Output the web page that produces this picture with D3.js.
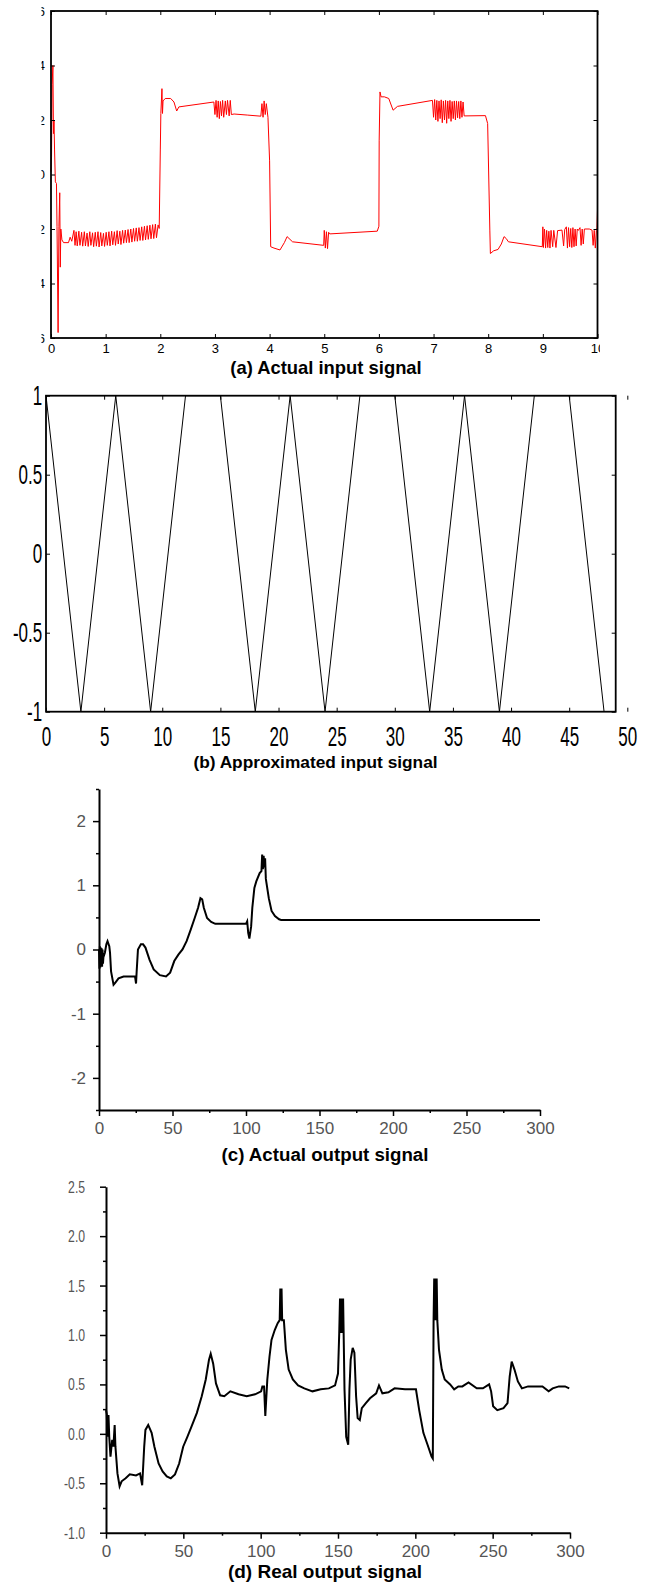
<!DOCTYPE html>
<html>
<head>
<meta charset="utf-8">
<script src="https://cdn.jsdelivr.net/npm/d3@7"></script>
<style>
  body { margin: 0; background: #fff; }
  svg { display: block; }
  text { font-family: "Liberation Sans", Arial, sans-serif; }
</style>
</head>
<body>
<svg id="chart" width="645" height="1582"></svg>
<script>
// (a) actual input signal, [time, value]
const inputActual = [
  [0,0.1],[0.01,0.65],[0.02,3.3],[0.035,4.0],[0.045,1.5],[0.055,2.0],[0.065,0.9],[0.08,-0.27],[0.1,-0.33],
  [0.11,-1.9],[0.13,-5.8],[0.145,-1.9],[0.16,-0.67],[0.17,-3.4],[0.18,-2.0],[0.2,-2.4],[0.23,-2.5],[0.32,-2.5],
  [0.35,-2.3],[0.38,-2.45],
  [0.42,-2.05],[0.44,-2.6],[0.46,-2.1],[0.48,-2.62],[0.51,-2.08],[0.53,-2.6],[0.56,-2.12],[0.58,-2.63],[0.61,-2.1],
  [0.63,-2.62],[0.66,-2.15],[0.68,-2.64],[0.71,-2.1],[0.73,-2.6],[0.76,-2.14],[0.78,-2.65],[0.81,-2.12],[0.83,-2.63],
  [0.86,-2.1],[0.88,-2.66],[0.91,-2.13],[0.93,-2.62],[0.96,-2.16],[0.98,-2.64],[1.01,-2.12],[1.03,-2.6],[1.06,-2.1],
  [1.08,-2.62],[1.11,-2.08],[1.13,-2.58],[1.16,-2.1],[1.18,-2.6],[1.21,-2.06],[1.23,-2.55],[1.26,-2.08],[1.28,-2.57],
  [1.31,-2.05],[1.33,-2.52],[1.36,-2.04],[1.38,-2.5],[1.41,-2.02],[1.43,-2.5],[1.46,-2.0],[1.48,-2.48],[1.51,-1.98],
  [1.53,-2.45],[1.56,-1.96],[1.58,-2.45],[1.61,-1.95],[1.63,-2.42],[1.66,-1.92],[1.68,-2.42],[1.71,-1.9],[1.73,-2.4],
  [1.76,-1.88],[1.78,-2.38],[1.81,-1.86],[1.83,-2.36],[1.86,-1.84],[1.88,-2.35],[1.91,-1.82],[1.93,-2.32],[1.96,-1.85],
  [1.98,-1.98],[2.0,0.9],[2.01,2.24],[2.03,3.15],[2.04,2.24],[2.05,2.7],[2.09,2.79],[2.19,2.79],[2.25,2.66],
  [2.3,2.33],[2.34,2.48],[2.98,2.66],
  [3.0,2.2],[3.02,2.72],[3.04,2.1],[3.06,2.7],[3.08,2.05],[3.1,2.68],[3.12,2.15],[3.14,2.72],[3.16,2.1],[3.19,2.7],
  [3.21,2.2],[3.23,2.72],[3.26,2.15],[3.28,2.72],[3.3,2.2],
  [3.35,2.22],[3.6,2.18],[3.84,2.14],[3.86,2.6],[3.88,2.1],[3.9,2.7],[3.92,2.2],[3.94,2.6],[3.97,2.1],[4.0,0.5],
  [4.02,-2.65],[4.08,-2.7],[4.19,-2.77],[4.27,-2.5],[4.32,-2.28],[4.42,-2.47],[4.99,-2.6],
  [5.0,-2.05],[5.02,-2.7],[5.04,-2.1],[5.06,-2.72],[5.08,-2.12],[5.1,-2.18],[5.97,-2.08],[6.0,-1.9],[6.005,1.26],
  [6.02,3.03],[6.04,2.85],[6.1,2.85],[6.18,2.79],[6.26,2.36],[6.34,2.5],[6.98,2.72],
  [7.0,2.1],[7.02,2.75],[7.04,2.0],[7.06,2.72],[7.08,1.95],[7.1,2.7],[7.12,2.05],[7.14,2.74],[7.16,1.9],[7.18,2.7],
  [7.2,2.0],[7.22,2.72],[7.24,1.88],[7.26,2.7],[7.28,2.05],[7.3,2.72],[7.32,1.95],[7.34,2.68],[7.36,2.05],[7.38,2.7],
  [7.4,2.0],[7.42,2.7],[7.44,2.08],[7.46,2.68],[7.48,2.05],[7.5,2.7],[7.52,2.1],[7.54,2.66],[7.56,2.15],
  [7.95,2.16],[7.99,1.87],[8.03,-2.04],[8.04,-2.9],[8.1,-2.8],[8.18,-2.75],[8.24,-2.55],[8.29,-2.28],[8.33,-2.35],
  [8.37,-2.47],[8.99,-2.65],
  [9.0,-1.92],[9.01,-2.68],[9.03,-2.0],[9.05,-2.7],[9.07,-2.05],[9.09,-2.68],[9.11,-2.08],[9.13,-2.7],[9.15,-2.05],
  [9.18,-2.65],[9.2,-2.05],[9.24,-2.68],[9.27,-2.06],[9.35,-2.04],[9.38,-2.62],[9.4,-2.02],[9.43,-1.92],[9.45,-2.7],
  [9.47,-1.95],[9.49,-2.65],[9.51,-1.98],[9.53,-2.68],[9.55,-1.95],[9.57,-2.65],[9.59,-2.0],[9.61,-2.62],[9.63,-2.0],
  [9.65,-2.05],[9.68,-1.95],[9.7,-2.6],[9.72,-2.0],[9.74,-2.55],[9.76,-2.0],[9.85,-2.0],[9.9,-2.04],[9.92,-2.6],
  [9.94,-2.05],[9.96,-2.7],[9.98,-2.05],[9.99,-1.95],[10,-1.31]
];

// (b) approximated input signal: triangle vertices
const triTime  = [0, 3, 6, 9, 12, 15, 18, 21, 24, 27, 30, 33, 36, 39, 42, 45, 48];
const triValue = [1, -1, 1, -1, 1, 1, -1, 1, -1, 1, 1, -1, 1, -1, 1, 1, -1];

// (c) actual output signal
const outputActual = [
  [0,0],[0.3,-0.3],[0.6,0.05],[0.9,-0.28],[1.2,0.03],[1.5,-0.25],[1.8,0.02],[2.1,-0.27],[2.4,0],[2.7,-0.22],
  [3,-0.12],[4,-0.05],[5,0.08],[5.8,0.13],[7,0.05],[7.5,-0.05],[8.2,-0.34],[9.9,-0.55],[11,-0.52],[13.3,-0.45],
  [16.7,-0.42],[24.5,-0.42],[25.2,-0.53],[25.6,-0.35],[26.5,0],[28.5,0.08],[30,0.08],[31.6,0.03],[34.4,-0.16],
  [37.2,-0.31],[41.4,-0.4],[45.6,-0.42],[48.4,-0.36],[51.2,-0.18],[54,-0.08],[56.8,0],[59.6,0.13],[62.4,0.31],
  [65.1,0.49],[67.4,0.65],[69,0.8],[70.2,0.78],[71.3,0.65],[73.5,0.49],[76.3,0.43],[79.1,0.4],[100,0.4],
  [100.8,0.44],[101.5,0.26],[102.3,0.17],[103.5,0.36],[104.3,0.65],[105.7,0.96],[107,1.06],[109.3,1.19],
  [110.5,1.22],[111,1.48],[111.5,1.25],[112,1.46],[112.5,1.28],[113,1.42],[113.5,1.1],[115.5,0.8],[117.4,0.6],
  [119.7,0.52],[122.5,0.47],[123.9,0.46],[300,0.46]
];

// (d) real output signal
const outputReal = [
  [0,0.24],[0.5,0.2],[1,-0.03],[1.6,0.19],[2.1,-0.03],[2.9,-0.23],[4,-0.06],[4.8,-0.13],[5.6,0.09],[6.1,-0.13],
  [7.4,-0.4],[8.8,-0.53],[10.1,-0.48],[12.7,-0.45],[15.4,-0.41],[19.4,-0.42],[22,-0.4],[23.4,-0.52],[24.7,-0.13],
  [25.5,0.04],[27.3,0.09],[29.5,0.01],[31.3,-0.13],[34,-0.3],[36.6,-0.38],[39.3,-0.43],[41.9,-0.45],[44.6,-0.41],
  [47.3,-0.3],[49.9,-0.13],[52.6,-0.03],[55.2,0.07],[58.7,0.21],[61.9,0.38],[64.5,0.55],[66.6,0.75],[67.7,0.81],
  [69.3,0.71],[71.1,0.51],[73.8,0.39],[76.5,0.38],[80.4,0.43],[85.7,0.4],[91,0.38],[96.4,0.4],[100.3,0.43],
  [101.1,0.48],[102.2,0.48],[103,0.18],[104.3,0.55],[105.7,0.78],[107,0.95],[109.1,1.05],[111,1.12],[112.3,1.15],
  [112.7,1.47],[113.1,1.15],[113.5,1.47],[113.9,1.15],[115,1.15],[116.3,0.85],[118.1,0.65],[120.8,0.55],
  [124.2,0.49],[128.2,0.46],[133.5,0.43],[138.8,0.45],[144.1,0.46],[148.1,0.49],[150,0.61],[150.8,1.02],
  [151.3,1.37],[151.8,1.02],[152.3,1.37],[152.8,1.02],[153.3,1.37],[154.2,0.45],[155.3,-0.03],[156.6,-0.11],
  [157.4,0.45],[158.2,0.75],[159.5,0.87],[160.6,0.82],[161.7,0.38],[162.7,0.16],[164.1,0.14],[165.4,0.26],
  [168,0.31],[170.7,0.36],[174.7,0.41],[176.5,0.49],[178.7,0.41],[182.6,0.42],[186.6,0.46],[193.3,0.45],
  [200.4,0.45],[202.5,0.24],[205.2,0.01],[207.9,-0.11],[210.5,-0.23],[211.3,-0.25],[211.8,1.15],[212.2,1.57],
  [212.6,1.15],[213,1.57],[213.4,1.15],[213.8,1.57],[214.2,1.15],[215.3,0.85],[217.1,0.65],[219,0.55],[222.5,0.5],
  [225.1,0.45],[227.8,0.48],[230.4,0.48],[234.4,0.52],[239.7,0.46],[243.7,0.46],[247.7,0.5],[249,0.43],
  [250.3,0.28],[253,0.24],[257,0.26],[259.6,0.31],[261,0.58],[262.3,0.73],[264.1,0.65],[266.3,0.53],[268.9,0.46],
  [272.9,0.48],[276.9,0.48],[282.2,0.48],[286.2,0.43],[288.8,0.46],[292.8,0.48],[296.8,0.48],[299.5,0.46]
];

// tick values
const ticksA_x = d3.range(0, 11, 1);
const ticksA_y = [-6, -4, -2, 0, 2, 4, 6];
const ticksB_x = [0, 5, 10, 15, 20, 25, 30, 35, 40, 45, 50];
const ticksB_y = [-1, -0.5, 0, 0.5, 1];
const ticksC_x = [0, 50, 100, 150, 200, 250, 300];
const minorC_x = [25, 75, 125, 175, 225, 275];
const ticksC_y = [-2, -1, 0, 1, 2];
const minorC_y = [-2.5, -1.5, -0.5, 0.5, 1.5, 2.5];
const ticksD_y = [-1, -0.5, 0, 0.5, 1, 1.5, 2, 2.5];
const minorD_y = [-0.75, -0.25, 0.25, 0.75, 1.25, 1.75, 2.25];

const titles = ["(a) Actual input signal", "(b) Approximated input signal",
                "(c) Actual output signal", "(d) Real output signal"];

const svg = d3.select("#chart");
svg.append("rect").attr("width", 645).attr("height", 1582).attr("fill", "#fff");

const plain = d => String(d).replace("\u2212", "-");

// boxed matlab-style frame, ticks pointing inward on all four sides
function boxAxes(g, x, y, o) {
  const [yb, yt] = y.range();
  const [xl, xr] = x.range();
  const styleTxt = (sel, sx) => sel.selectAll("text")
      .attr("fill", "#000").style("font-size", o.font + "px")
      .attr("transform", `scale(${sx},1)`);

  const bottom = g.append("g").attr("transform", `translate(0,${yb})`)
    .call(d3.axisBottom(x).tickValues(o.xt).tickSize(-4).tickPadding(o.padX).tickFormat(plain));
  styleTxt(bottom, o.sx);
  g.append("g").attr("transform", `translate(0,${yt})`)
    .call(d3.axisTop(x).tickValues(o.xt).tickSize(-4).tickFormat(""));
  const left = g.append("g").attr("transform", `translate(${xl},0)`)
    .call(d3.axisLeft(y).tickValues(o.yt).tickSize(-4).tickPadding(o.padY).tickFormat(plain));
  styleTxt(left, o.sy);
  if (o.clipLeft) left.selectAll("text").attr("clip-path", `url(#${o.clipLeft})`);
  g.append("g").attr("transform", `translate(${xr},0)`)
    .call(d3.axisRight(y).tickValues(o.yt).tickSize(-4).tickFormat(""));

  g.selectAll(".domain").remove();
  g.selectAll(".tick line").attr("stroke", "#000").attr("stroke-width", 1);
  g.append("rect")
    .attr("x", xl).attr("y", yt).attr("width", xr - xl).attr("height", yb - yt)
    .attr("fill", "none").attr("stroke", "#000").attr("stroke-width", 1.8);
}

// origin-style open axes, ticks outward, minor ticks
function openAxes(g, x, y, o) {
  const yb = y.range()[0], xl = x.range()[0];
  g.append("g").attr("transform", `translate(0,${yb})`)
    .call(d3.axisBottom(x).tickValues(o.xMinor).tickSize(3).tickSizeOuter(0).tickFormat(""))
    .select(".domain").remove();
  const bx = g.append("g").attr("transform", `translate(0,${yb})`)
    .call(d3.axisBottom(x).tickValues(o.xt).tickSize(6).tickSizeOuter(0).tickPadding(o.padX).tickFormat(plain));
  g.append("g").attr("transform", `translate(${xl},0)`)
    .call(d3.axisLeft(y).tickValues(o.yMinor).tickSize(3).tickSizeOuter(0).tickFormat(""))
    .select(".domain").remove();
  const ly = g.append("g").attr("transform", `translate(${xl},0)`)
    .call(d3.axisLeft(y).tickValues(o.yt).tickSize(6).tickSizeOuter(0).tickPadding(o.padY).tickFormat(o.fmtY));

  g.selectAll(".domain").attr("stroke", "#000").attr("stroke-width", 2);
  g.selectAll(".tick line").attr("stroke", "#000").attr("stroke-width", 1.5);
  [bx, ly].forEach(a => a.selectAll("text").attr("fill", "#555").style("font-size", "17px"));
  ly.selectAll("text").attr("transform", `scale(${o.sy},1)`);
}

function title(txt, cx, cy, size) {
  svg.append("text").attr("x", cx).attr("y", cy).attr("dy", "0.35em")
    .attr("text-anchor", "middle").attr("font-weight", "bold")
    .style("font-size", size + "px").attr("fill", "#000").text(txt);
}

// ---------- (a)
const xa = d3.scaleLinear().domain([0, 10]).range([51, 597.5]);
const ya = d3.scaleLinear().domain([-6, 6]).range([338, 11]);
const defs = svg.append("defs");
defs.append("clipPath").attr("id", "clipA").append("rect")
  .attr("x", 0).attr("y", 0).attr("width", 600).attr("height", 380);
// tick text sits at x = -6 inside its tick group; keep only the right part of the glyph
defs.append("clipPath").attr("id", "clipAy").append("rect")
  .attr("x", -9.5).attr("y", -20).attr("width", 20).attr("height", 40);

const ga = svg.append("g").attr("clip-path", "url(#clipA)");
ga.append("path").datum(inputActual)
  .attr("fill", "none").attr("stroke", "#ff0000").attr("stroke-width", 1)
  .attr("d", d3.line().x(d => xa(d[0])).y(d => ya(d[1])));
boxAxes(ga, xa, ya, { xt: ticksA_x, yt: ticksA_y, font: 13, padX: 6, padY: 6, sx: 1, sy: 1, clipLeft: "clipAy" });
title(titles[0], 326, 367.5, 18.4);

// ---------- (b)
const xb = d3.scaleLinear().domain([0, 49]).range([46, 615.7]);
const yb = d3.scaleLinear().domain([-1, 1]).range([711.7, 395.7]);
const gb = svg.append("g");
gb.append("path").datum(d3.zip(triTime, triValue))
  .attr("fill", "none").attr("stroke", "#000").attr("stroke-width", 1)
  .attr("d", d3.line().x(d => xb(d[0])).y(d => yb(d[1])));
boxAxes(gb, xb, yb, { xt: ticksB_x, yt: ticksB_y, font: 27, padX: 15, padY: 6, sx: 0.63, sy: 0.63 });
title(titles[1], 315.5, 762, 17.3);

// ---------- (c)
const xc = d3.scaleLinear().domain([0, 300]).range([99, 540]);
const yc = d3.scaleLinear().domain([-2.5, 2.5]).range([1110, 789]);
const gc = svg.append("g");
openAxes(gc, xc, yc, { xt: ticksC_x, xMinor: minorC_x, yt: ticksC_y, yMinor: minorC_y, padX: 6, padY: 7, sy: 1, fmtY: plain });
gc.append("path").datum(outputActual)
  .attr("fill", "none").attr("stroke", "#000").attr("stroke-width", 2)
  .attr("d", d3.line().x(d => xc(d[0])).y(d => yc(d[1])));
title(titles[2], 325, 1154.3, 18.7);

// ---------- (d)
const xd = d3.scaleLinear().domain([0, 300]).range([106, 570]);
const yd = d3.scaleLinear().domain([-1, 2.5]).range([1532.7, 1186.7]);
const gd = svg.append("g");
openAxes(gd, xd, yd, { xt: ticksC_x, xMinor: minorC_x, yt: ticksD_y, yMinor: minorD_y, padX: 6, padY: 23, sy: 0.72,
  fmtY: d => d3.format(".1f")(d).replace("\u2212", "-") });
gd.append("path").datum(outputReal)
  .attr("fill", "none").attr("stroke", "#000").attr("stroke-width", 2)
  .attr("d", d3.line().x(d => xd(d[0])).y(d => yd(d[1])));
title(titles[3], 325, 1571, 19);
</script>
</body>
</html>
